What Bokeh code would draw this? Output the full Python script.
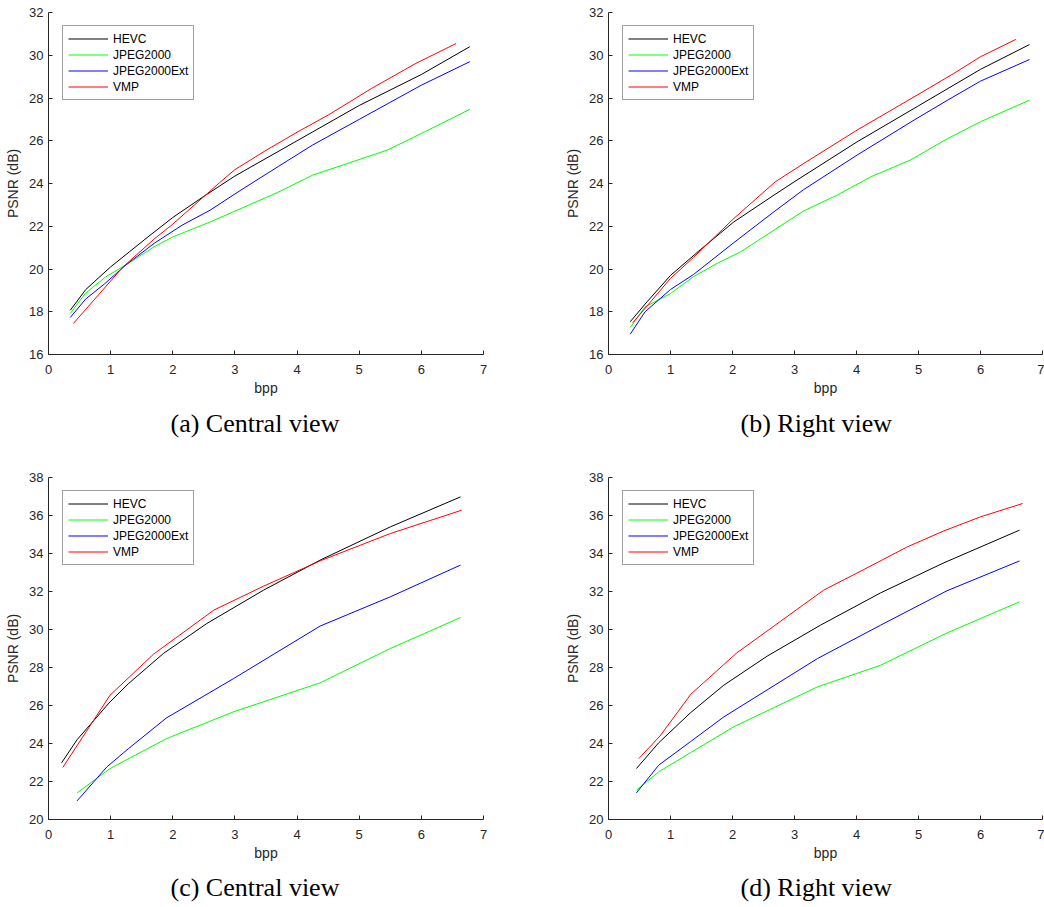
from bokeh.plotting import figure
from bokeh.models import Range1d, Title, FixedTicker
from bokeh.layouts import column, row
from bokeh.embed import file_html
from bokeh.resources import INLINE

series_names = ["HEVC", "JPEG2000", "JPEG2000Ext", "VMP"]
series_colors = ["#000000", "#00ff00", "#0000ff", "#ff0000"]
x_ticks = [0, 1, 2, 3, 4, 5, 6, 7]
y_ticks_top = [16, 18, 20, 22, 24, 26, 28, 30, 32]
y_ticks_bottom = [20, 22, 24, 26, 28, 30, 32, 34, 36, 38]
captions = ["(a) Central view", "(b) Right view", "(c) Central view", "(d) Right view"]

# (a) Central view, top row
a_hevc_x = [0.35, 0.6, 1.0, 1.3, 1.6, 2.0, 2.5, 3.0, 4.0, 5.0, 6.0, 6.78]
a_hevc_y = [18.07, 19.04, 20.1, 20.8, 21.5, 22.41, 23.4, 24.35, 26.0, 27.65, 29.1, 30.4]
a_j2k_x = [0.35, 0.59, 0.92, 1.25, 1.7, 2.0, 2.6, 3.68, 4.25, 5.45, 6.0, 6.78]
a_j2k_y = [17.92, 18.85, 19.63, 20.2, 21.04, 21.5, 22.2, 23.57, 24.39, 25.56, 26.34, 27.47]
a_j2kx_x = [0.35, 0.6, 0.9, 1.25, 1.7, 2.15, 2.6, 3.1, 3.7, 4.25, 5.0, 5.5, 6.0, 6.78]
a_j2kx_y = [17.73, 18.6, 19.3, 20.2, 21.2, 22.05, 22.75, 23.7, 24.8, 25.8, 27.0, 27.8, 28.6, 29.7]
a_vmp_x = [0.4, 1.2, 1.7, 2.0, 2.75, 3.0, 3.5, 4.0, 4.5, 5.2, 5.9, 6.56]
a_vmp_y = [17.45, 20.1, 21.4, 22.1, 24.03, 24.65, 25.55, 26.4, 27.2, 28.45, 29.6, 30.55]

# (b) Right view, top row
b_hevc_x = [0.35, 0.62, 1.0, 1.48, 2.02, 2.67, 3.04, 4.01, 4.98, 6.0, 6.79]
b_hevc_y = [17.53, 18.46, 19.7, 20.9, 22.2, 23.46, 24.16, 25.95, 27.6, 29.34, 30.5]
b_j2k_x = [0.35, 0.59, 1.0, 1.37, 1.75, 2.13, 2.67, 3.15, 3.69, 4.23, 4.87, 5.47, 6.0, 6.79]
b_j2k_y = [17.26, 18.23, 18.85, 19.64, 20.26, 20.8, 21.82, 22.72, 23.46, 24.31, 25.1, 26.1, 26.89, 27.9]
b_j2kx_x = [0.35, 0.59, 1.0, 1.37, 2.02, 2.67, 3.15, 4.01, 4.93, 5.47, 6.0, 6.79]
b_j2kx_y = [16.95, 18.0, 19.04, 19.74, 21.23, 22.68, 23.72, 25.33, 26.97, 27.9, 28.79, 29.8]
b_vmp_x = [0.39, 1.0, 1.37, 2.02, 2.69, 3.15, 4.01, 4.98, 5.57, 6.0, 6.57]
b_vmp_y = [17.48, 19.56, 20.54, 22.36, 24.08, 24.94, 26.5, 28.14, 29.15, 29.93, 30.74]

# (c) Central view, bottom row
c_hevc_x = [0.21, 0.46, 0.99, 1.29, 1.85, 2.55, 3.46, 4.37, 5.5, 6.63]
c_hevc_y = [22.98, 24.2, 26.19, 27.16, 28.74, 30.32, 32.07, 33.65, 35.4, 36.98]
c_j2k_x = [0.46, 0.99, 1.9, 2.98, 4.37, 5.5, 6.63]
c_j2k_y = [21.4, 22.68, 24.26, 25.67, 27.19, 29.0, 30.63]
c_j2kx_x = [0.46, 0.94, 1.29, 1.9, 2.98, 4.37, 5.5, 6.63]
c_j2kx_y = [20.98, 22.77, 23.74, 25.35, 27.42, 30.18, 31.72, 33.39]
c_vmp_x = [0.23, 0.99, 1.69, 2.66, 3.46, 4.37, 5.5, 6.65]
c_vmp_y = [22.74, 26.54, 28.7, 31.02, 32.28, 33.61, 35.05, 36.28]

# (d) Right view, bottom row
d_hevc_x = [0.45, 0.81, 1.32, 1.86, 2.56, 3.42, 4.39, 5.41, 6.63]
d_hevc_y = [22.68, 24.04, 25.61, 27.07, 28.6, 30.23, 31.93, 33.51, 35.23]
d_j2k_x = [0.45, 0.81, 1.32, 2.02, 3.37, 4.39, 5.46, 6.63]
d_j2k_y = [21.54, 22.51, 23.51, 24.88, 26.98, 28.12, 29.82, 31.46]
d_j2kx_x = [0.45, 0.81, 1.32, 1.86, 3.37, 4.39, 5.46, 6.63]
d_j2kx_y = [21.4, 22.86, 24.09, 25.4, 28.47, 30.23, 32.04, 33.61]
d_vmp_x = [0.49, 0.83, 1.33, 2.07, 3.47, 4.12, 4.82, 5.41, 6.0, 6.68]
d_vmp_y = [23.21, 24.39, 26.6, 28.77, 32.07, 33.16, 34.35, 35.19, 35.93, 36.63]

AX = "#262626"
SANS = "Liberation Sans"
SERIF = "Liberation Serif"


def make_panel(series, yticks, caption, fw, border_left, border_right,
               border_top, title_standoff, title_offset):
    p = figure(x_range=Range1d(0, 7), y_range=Range1d(yticks[0], yticks[-1]),
               frame_width=fw, frame_height=342,
               min_border_left=border_left, min_border_right=border_right,
               min_border_top=border_top, min_border_bottom=0,
               output_backend="svg", toolbar_location=None)
    p.outline_line_color = None
    p.xgrid.visible = False
    p.ygrid.visible = False
    p.background_fill_color = "white"
    p.border_fill_color = "white"
    for (xs, ys), name, col in zip(series, series_names, series_colors):
        p.line(xs, ys, line_color=col, line_width=1.0, legend_label=name)
    p.xaxis.ticker = FixedTicker(ticks=x_ticks)
    p.yaxis.ticker = FixedTicker(ticks=yticks)
    p.xaxis.axis_label = "bpp"
    p.yaxis.axis_label = "PSNR (dB)"
    for ax in (p.xaxis[0], p.yaxis[0]):
        ax.axis_line_color = AX
        ax.major_tick_line_color = AX
        ax.minor_tick_line_color = None
        ax.major_tick_in = 4
        ax.major_tick_out = 0
        ax.major_label_text_color = AX
        ax.major_label_text_font = SANS
        ax.major_label_text_font_size = "13px"
        ax.axis_label_text_color = AX
        ax.axis_label_text_font = SANS
        ax.axis_label_text_font_size = "14px"
        ax.axis_label_text_font_style = "normal"
    p.xaxis.major_label_standoff = 10
    p.xaxis.axis_label_standoff = 3
    p.yaxis.major_label_standoff = 5
    p.yaxis.axis_label_standoff = 5
    lg = p.legend[0]
    lg.location = (14, 254)
    lg.label_text_font = SANS
    lg.label_text_font_size = "12px"
    lg.label_text_color = "#000000"
    lg.glyph_width = 40
    lg.glyph_height = 15
    lg.label_height = 15
    lg.label_standoff = 5
    lg.spacing = 1
    lg.padding = 5
    lg.margin = 0
    lg.border_line_color = "#404040"
    lg.border_line_width = 1
    lg.background_fill_color = "white"
    lg.background_fill_alpha = 1.0
    t = Title(text=caption, align="left", offset=title_offset,
              vertical_align="top", text_font=SERIF,
              text_font_size="26px", text_font_style="normal",
              text_color="#000000", standoff=title_standoff)
    p.add_layout(t, "below")
    return p


pa = make_panel([(a_hevc_x, a_hevc_y), (a_j2k_x, a_j2k_y), (a_j2kx_x, a_j2kx_y), (a_vmp_x, a_vmp_y)],
                y_ticks_top, captions[0], 435, 48, 37, 12, 21, 122)
pb = make_panel([(b_hevc_x, b_hevc_y), (b_j2k_x, b_j2k_y), (b_j2kx_x, b_j2kx_y), (b_vmp_x, b_vmp_y)],
                y_ticks_top, captions[1], 434, 88, 2, 12, 21, 132)
pc = make_panel([(c_hevc_x, c_hevc_y), (c_j2k_x, c_j2k_y), (c_j2kx_x, c_j2kx_y), (c_vmp_x, c_vmp_y)],
                y_ticks_bottom, captions[2], 435, 48, 37, 27, 18, 122)
pd = make_panel([(d_hevc_x, d_hevc_y), (d_j2k_x, d_j2k_y), (d_j2kx_x, d_j2kx_y), (d_vmp_x, d_vmp_y)],
                y_ticks_bottom, captions[3], 434, 88, 2, 27, 18, 132)

layout = column(row(pa, pb), row(pc, pd))
open("out.html", "w").write(file_html(layout, INLINE))
